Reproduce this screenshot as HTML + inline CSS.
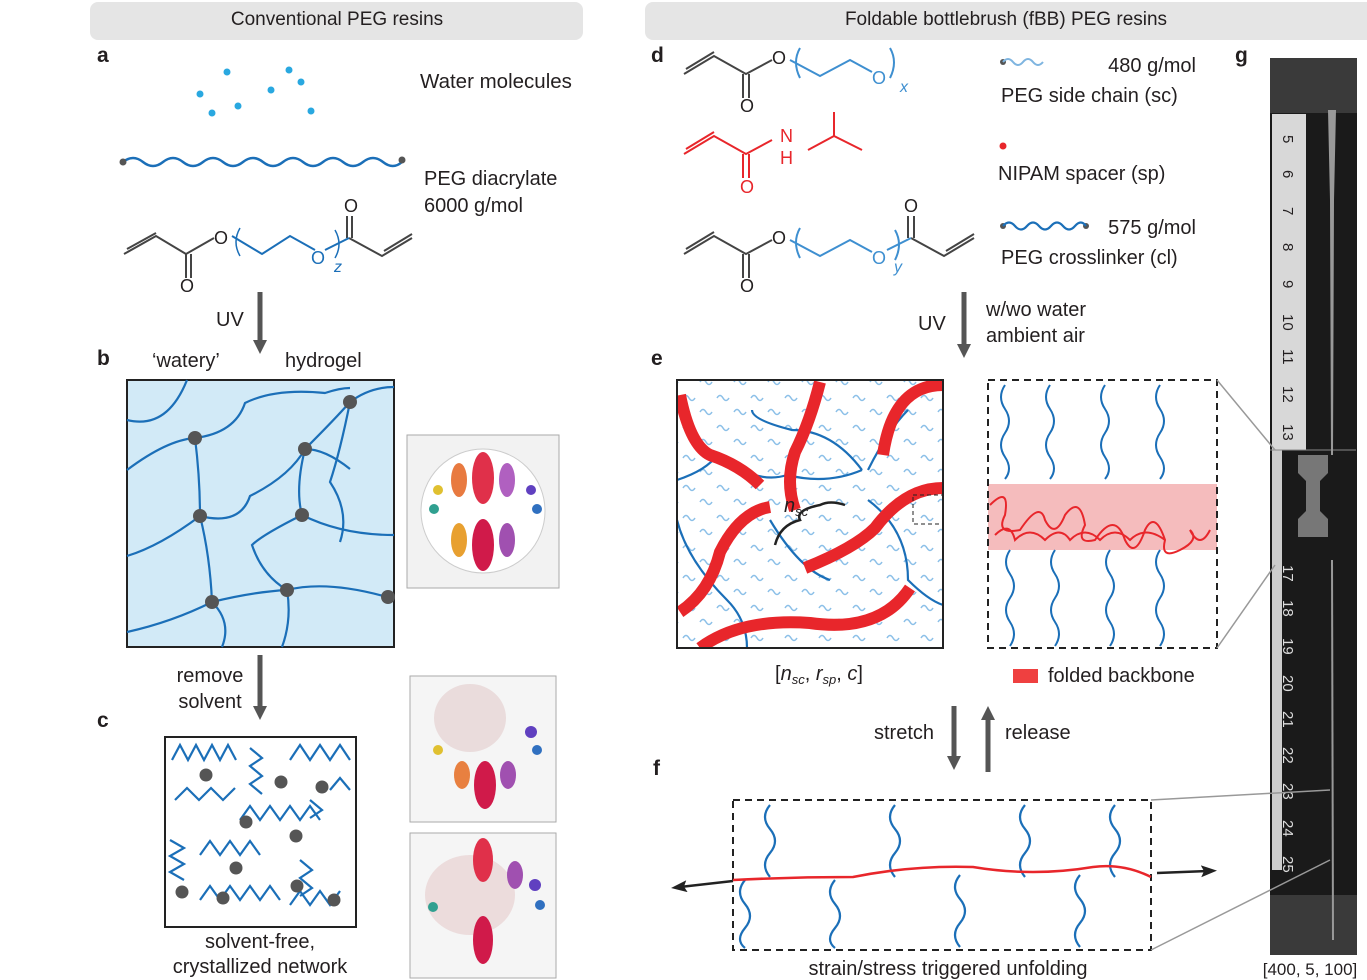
<!DOCTYPE html>
<html><head><meta charset="utf-8"><style>
body{margin:0;background:#fff}
svg{display:block}
text{font-family:"Liberation Sans",sans-serif;fill:#231f20}
</style></head><body>
<svg width="1367" height="980" viewBox="0 0 1367 980" xmlns="http://www.w3.org/2000/svg">
<defs>
<marker id="ah" markerWidth="16" markerHeight="14" refX="6" refY="7" orient="auto" markerUnits="userSpaceOnUse"><path d="M0,0 L14,7 L0,14 z" fill="#555"/></marker>
<marker id="ak" markerWidth="16" markerHeight="12" refX="7" refY="6" orient="auto" markerUnits="userSpaceOnUse"><path d="M0,0 L16,6 L0,12 L3,6 z" fill="#222"/></marker>
<pattern id="sq" width="34" height="30" patternUnits="userSpaceOnUse">
<path d="M3,8 q3,-5 6,0 t6,0" fill="none" stroke="#8cc0e8" stroke-width="1.5"/>
<path d="M20,22 q3,-5 6,0 t6,0" fill="none" stroke="#8cc0e8" stroke-width="1.5"/>
</pattern>
<clipPath id="ce"><rect x="677" y="380" width="266" height="268"/></clipPath>
</defs>
<rect x="90" y="2" width="493" height="38" rx="8" fill="#e5e5e5"/>
<text x="337" y="25" font-size="19" text-anchor="middle">Conventional PEG resins</text>
<rect x="645" y="2" width="730" height="38" rx="8" fill="#e5e5e5"/>
<text x="1006" y="25" font-size="19" text-anchor="middle">Foldable bottlebrush (fBB) PEG resins</text>
<g font-size="21" font-weight="bold">
<text x="97" y="62">a</text><text x="97" y="365">b</text><text x="97" y="727">c</text>
<text x="651" y="62">d</text><text x="651" y="365">e</text><text x="653" y="775">f</text><text x="1235" y="62">g</text></g>
<g fill="#29a8e0"><circle cx="227" cy="72" r="3.5"/><circle cx="289" cy="70" r="3.5"/><circle cx="301" cy="82" r="3.5"/><circle cx="200" cy="94" r="3.5"/><circle cx="271" cy="90" r="3.5"/><circle cx="238" cy="106" r="3.5"/><circle cx="212" cy="113" r="3.5"/><circle cx="311" cy="111" r="3.5"/></g>
<text x="420" y="88" font-size="20.5">Water molecules</text>
<path d="M123,162 q10,-8 20,0 t20,0 t20,0 t20,0 t20,0 t20,0 t20,0 t20,0 t20,0 t20,0 t20,0 t20,0 t20,0 t19,0" fill="none" stroke="#1b6fb8" stroke-width="2.5"/>
<circle cx="123" cy="162" r="3.5" fill="#555"/><circle cx="402" cy="160" r="3.5" fill="#555"/>
<text x="424" y="185" font-size="20">PEG diacrylate</text><text x="424" y="212" font-size="20">6000 g/mol</text>
<g fill="none" stroke="#444" stroke-width="2">
<path d="M124,254 L156,236 L186,254 L214,238"/><path d="M127,249 L156,233"/><path d="M186,254 L186,278"/><path d="M191,254 L191,278"/>
<path d="M352,238 L352,216"/><path d="M347,238 L347,216"/><path d="M349,238 L382,256 L412,238"/><path d="M384,251 L412,234"/></g>
<path d="M232,236 L262,254 L290,236 L315,250 M325,250 L349,238" fill="none" stroke="#1b6fb8" stroke-width="2"/>
<path d="M240,228 q-8,14 0,28 M335,230 q8,14 0,28" fill="none" stroke="#1b6fb8" stroke-width="1.5"/>
<text x="214" y="244" font-size="18" fill="#444">O</text><text x="180" y="292" font-size="18" fill="#444">O</text><text x="344" y="212" font-size="18" fill="#444">O</text>
<text x="311" y="264" font-size="18" style="fill:#1b6fb8">O</text><text x="334" y="272" font-size="16" font-style="italic" style="fill:#1b6fb8">z</text>
<line x1="260" y1="292" x2="260" y2="346" stroke="#555" stroke-width="5" marker-end="url(#ah)"/>
<text x="216" y="326" font-size="20">UV</text>
<text x="152" y="367" font-size="20">‘watery’</text><text x="285" y="367" font-size="20">hydrogel</text>
<rect x="127" y="380" width="267" height="267" fill="#d2eaf7" stroke="#222" stroke-width="2"/>
<g fill="none" stroke="#1b6fb8" stroke-width="2.2">
<path d="M127,470 q40,-30 68,-32 q40,-5 50,-35 q30,-15 80,-10 q15,-5 25,-5"/>
<path d="M195,438 q5,40 5,78 q40,10 50,-20 q40,-20 55,-47"/>
<path d="M305,449 q30,-30 45,-47 q20,-15 44,-15"/><path d="M305,449 q-10,40 -3,66"/>
<path d="M200,516 q-40,30 -73,40"/><path d="M200,516 q10,40 12,86 q-40,20 -85,30"/>
<path d="M302,515 q40,20 92,20"/><path d="M302,515 q-40,20 -50,30 q10,30 35,45"/>
<path d="M212,602 q40,-10 75,-12 q40,-10 100,7"/><path d="M287,590 q5,30 -5,57"/><path d="M212,602 q20,20 10,45"/>
<path d="M350,402 q-10,50 -20,80 q20,30 10,60"/><path d="M305,449 q20,0 45,20"/><path d="M127,420 q40,10 60,-40"/>
</g>
<g fill="#555"><circle cx="195" cy="438" r="7"/><circle cx="305" cy="449" r="7"/><circle cx="350" cy="402" r="7"/><circle cx="200" cy="516" r="7"/><circle cx="302" cy="515" r="7"/><circle cx="212" cy="602" r="7"/><circle cx="287" cy="590" r="7"/><circle cx="388" cy="597" r="7"/></g>
<rect x="407" y="435" width="152" height="153" fill="#f2f2f2" stroke="#aaa"/>
<circle cx="483" cy="511" r="62" fill="#fff" stroke="#ccc"/>
<ellipse cx="483" cy="478" rx="11" ry="26" fill="#e0304a"/><ellipse cx="483" cy="545" rx="11" ry="26" fill="#d01a4a"/>
<ellipse cx="459" cy="480" rx="8" ry="17" fill="#e87a40"/><ellipse cx="507" cy="480" rx="8" ry="17" fill="#b060c0"/>
<ellipse cx="459" cy="540" rx="8" ry="17" fill="#e8a030"/><ellipse cx="507" cy="540" rx="8" ry="17" fill="#a050b0"/>
<circle cx="438" cy="490" r="5" fill="#e0c030"/><circle cx="434" cy="509" r="5" fill="#30a090"/><circle cx="531" cy="490" r="5" fill="#6040c0"/><circle cx="537" cy="509" r="5" fill="#3070c0"/>
<line x1="260" y1="655" x2="260" y2="712" stroke="#555" stroke-width="5" marker-end="url(#ah)"/>
<text x="210" y="682" font-size="20" text-anchor="middle">remove</text><text x="210" y="708" font-size="20" text-anchor="middle">solvent</text>
<rect x="165" y="737" width="191" height="190" fill="#fff" stroke="#222" stroke-width="2"/>
<g fill="none" stroke="#1b6fb8" stroke-width="2.2">
<path d="M172,760 l8,-15 l8,15 l8,-15 l8,15 l8,-15 l8,15 l8,-15 l8,15"/>
<path d="M250,748 l12,10 l-12,8 l12,10 l-12,8 l12,10"/>
<path d="M290,760 l10,-15 l10,15 l10,-15 l10,15 l10,-15 l10,15"/>
<path d="M175,800 l12,-12 l12,12 l12,-12 l12,12 l12,-12"/>
<path d="M240,820 l10,-14 l10,14 l10,-14 l10,14 l10,-14 l10,14 l10,-14 l10,14"/>
<path d="M170,840 l14,8 l-14,8 l14,8 l-14,8 l14,8"/>
<path d="M200,855 l10,-14 l10,14 l10,-14 l10,14 l10,-14 l10,14"/>
<path d="M300,860 l12,10 l-12,8 l12,10 l-12,8"/>
<path d="M200,900 l10,-14 l10,14 l10,-14 l10,14 l10,-14 l10,14 l10,-14 l10,14"/>
<path d="M290,905 l10,-14 l10,14 l10,-14 l10,14 l10,-14"/>
<path d="M330,790 l10,-12 l10,12 M310,800 l12,10 l-12,8"/>
</g>
<g fill="#555"><circle cx="206" cy="775" r="6.5"/><circle cx="281" cy="782" r="6.5"/><circle cx="322" cy="787" r="6.5"/><circle cx="246" cy="822" r="6.5"/><circle cx="296" cy="836" r="6.5"/><circle cx="236" cy="868" r="6.5"/><circle cx="182" cy="892" r="6.5"/><circle cx="297" cy="886" r="6.5"/><circle cx="223" cy="898" r="6.5"/><circle cx="334" cy="900" r="6.5"/></g>
<text x="260" y="948" font-size="20" text-anchor="middle">solvent-free,</text><text x="260" y="973" font-size="20" text-anchor="middle">crystallized network</text>
<rect x="410" y="676" width="146" height="146" fill="#f5f5f5" stroke="#aaa"/>
<ellipse cx="470" cy="718" rx="36" ry="34" fill="#eadcdc"/><ellipse cx="485" cy="785" rx="11" ry="24" fill="#d01a4a"/><ellipse cx="462" cy="775" rx="8" ry="14" fill="#e88040"/><ellipse cx="508" cy="775" rx="8" ry="14" fill="#a050b0"/>
<circle cx="531" cy="732" r="6" fill="#6040c0"/><circle cx="537" cy="750" r="5" fill="#3070c0"/><circle cx="438" cy="750" r="5" fill="#e0c030"/>
<rect x="410" y="833" width="146" height="145" fill="#f5f5f5" stroke="#aaa"/>
<ellipse cx="470" cy="895" rx="45" ry="40" fill="#ecdcdc"/><ellipse cx="483" cy="860" rx="10" ry="22" fill="#e0304a"/><ellipse cx="483" cy="940" rx="10" ry="24" fill="#d01a4a"/>
<circle cx="535" cy="885" r="6" fill="#6040c0"/><circle cx="540" cy="905" r="5" fill="#3070c0"/><circle cx="433" cy="907" r="5" fill="#30a090"/><ellipse cx="515" cy="875" rx="8" ry="14" fill="#a050b0"/>
<g fill="none" stroke="#444" stroke-width="2"><path d="M684,74 L714,56 L746,74 L772,60"/><path d="M686,69 L714,52"/><path d="M743,74 L743,98 M749,74 L749,98"/>
<path d="M684,254 L714,236 L746,254 L772,240"/><path d="M686,249 L714,232"/><path d="M743,254 L743,278 M749,254 L749,278"/>
<path d="M908,238 L908,216 M914,238 L914,216 M911,238 L944,256 L974,238 M946,251 L974,234"/></g>
<text x="772" y="64" font-size="18" fill="#444">O</text><text x="740" y="112" font-size="18" fill="#444">O</text>
<text x="772" y="244" font-size="18" fill="#444">O</text><text x="740" y="292" font-size="18" fill="#444">O</text><text x="904" y="212" font-size="18" fill="#444">O</text>
<g fill="none" stroke="#3e8fd0" stroke-width="2"><path d="M790,60 L820,76 L850,60 L872,72 M800,48 q-8,14 0,30 M890,48 q8,14 0,30"/>
<path d="M790,240 L820,256 L850,240 L872,252 M887,250 L911,238 M800,228 q-8,14 0,30 M895,230 q8,14 0,30"/></g>
<text x="872" y="84" font-size="18" style="fill:#3e8fd0">O</text><text x="900" y="92" font-size="16" font-style="italic" style="fill:#3e8fd0">x</text>
<text x="872" y="264" font-size="18" style="fill:#3e8fd0">O</text><text x="894" y="272" font-size="16" font-style="italic" style="fill:#3e8fd0">y</text>
<g fill="none" stroke="#e8262b" stroke-width="2"><path d="M684,154 L714,136 L746,154 L772,140 M686,149 L714,132 M743,154 L743,178 M749,154 L749,178 M808,150 L834,136 L862,150 M834,136 L834,112"/></g>
<text x="740" y="193" font-size="18" style="fill:#e8262b">O</text><text x="780" y="142" font-size="18" style="fill:#e8262b">N</text><text x="780" y="164" font-size="18" style="fill:#e8262b">H</text>
<circle cx="1003" cy="62" r="3" fill="#555"/><path d="M1003,62 q5,-6 10,0 t10,0 t10,0 t10,0" fill="none" stroke="#7fb5e0" stroke-width="2"/>
<text x="1196" y="72" font-size="20" text-anchor="end">480 g/mol</text><text x="1001" y="102" font-size="20">PEG side chain (sc)</text>
<circle cx="1003" cy="146" r="3.5" fill="#e8262b"/><text x="998" y="180" font-size="20">NIPAM spacer (sp)</text>
<circle cx="1003" cy="226" r="3" fill="#555"/><circle cx="1086" cy="226" r="3" fill="#555"/><path d="M1003,226 q6,-7 12,0 t12,0 t12,0 t12,0 t12,0 t12,0 t11,0" fill="none" stroke="#1b6fb8" stroke-width="2.2"/>
<text x="1196" y="234" font-size="20" text-anchor="end">575 g/mol</text><text x="1001" y="264" font-size="20">PEG crosslinker (cl)</text>
<line x1="964" y1="292" x2="964" y2="350" stroke="#555" stroke-width="5" marker-end="url(#ah)"/>
<text x="918" y="330" font-size="20">UV</text><text x="986" y="316" font-size="20">w/wo water</text><text x="986" y="342" font-size="20">ambient air</text>
<rect x="677" y="380" width="266" height="268" fill="#fff"/>
<g clip-path="url(#ce)">
<rect x="677" y="380" width="266" height="268" fill="url(#sq)"/>
<g fill="none" stroke="#1b6fb8" stroke-width="2.2">
<path d="M677,480 q30,-10 40,-25 q40,30 70,20 q40,10 75,-5"/><path d="M862,470 q-30,-40 -70,-40 q-40,-10 -40,-20"/>
<path d="M677,520 q10,40 50,80 q20,20 20,48"/><path d="M770,520 q30,50 60,60"/><path d="M868,500 q40,30 40,80 q20,20 35,25"/><path d="M868,470 q20,-40 40,-60"/></g>
<g fill="none" stroke="#e8262b" stroke-width="12">
<path d="M680,395 q10,50 30,60 q30,10 50,30"/><path d="M820,382 q-10,40 -25,70 q-10,30 0,58"/><path d="M943,385 q-50,0 -60,70"/>
<path d="M680,612 q30,-20 40,-60 q20,-40 50,-45"/><path d="M805,568 q50,-20 70,-40 q30,-40 68,-40"/><path d="M700,648 q40,-30 110,-25 q70,10 100,-35"/></g>
</g>
<rect x="677" y="380" width="266" height="268" fill="none" stroke="#222" stroke-width="2"/>
<rect x="913" y="495" width="30" height="29" fill="none" stroke="#222" stroke-dasharray="4 3"/>
<text x="784" y="512" font-size="20" font-style="italic" font-family="Liberation Serif">n<tspan font-size="13" dy="4">sc</tspan></text>
<path d="M775,545 q5,-20 25,-25 q-5,-10 20,-15 q10,-5 25,0" fill="none" stroke="#222" stroke-width="2.5"/>
<text x="775" y="680" font-size="20">[<tspan font-style="italic">n</tspan><tspan font-size="13" dy="4" font-style="italic">sc</tspan><tspan dy="-4">, </tspan><tspan font-style="italic">r</tspan><tspan font-size="13" dy="4" font-style="italic">sp</tspan><tspan dy="-4">, </tspan><tspan font-style="italic">c</tspan>]</text>
<rect x="988" y="484" width="229" height="66" fill="#f4b5b6" opacity=".9"/>
<rect x="988" y="380" width="229" height="268" fill="none" stroke="#222" stroke-width="2" stroke-dasharray="7 5"/>
<g fill="none" stroke="#1b6fb8" stroke-width="2"><path d="M1005,385 q-8,12 0,24 t0,24 t0,24 t0,22"/><path d="M1050,385 q-8,12 0,24 t0,24 t0,24 t0,22"/><path d="M1105,385 q-8,12 0,24 t0,24 t0,24 t0,22"/><path d="M1160,385 q-8,12 0,24 t0,24 t0,24 t0,22"/>
<path d="M1010,550 q-8,12 0,24 t0,24 t0,24 t0,24"/><path d="M1055,550 q-8,12 0,24 t0,24 t0,24 t0,24"/><path d="M1110,550 q-8,12 0,24 t0,24 t0,24 t0,24"/><path d="M1160,550 q-8,12 0,24 t0,24 t0,24 t0,24"/></g>
<path d="M990,505 q20,-20 15,10 q-10,20 15,15 q20,-30 25,-10 q10,20 20,-5 q15,-20 20,10 q-10,20 10,15 q20,-30 30,0 q10,20 20,-10 q10,-20 20,10 q-5,20 15,10 q20,-10 10,-20 q10,20 20,0" fill="none" stroke="#e8262b" stroke-width="2"/>
<path d="M995,535 q15,-15 20,5 q15,-15 30,0 q15,-15 25,0 q15,-15 30,0 q15,-15 30,0 q15,-15 35,0" fill="none" stroke="#e8262b" stroke-width="2"/>
<rect x="1013" y="669" width="25" height="14" fill="#ef4040"/><text x="1048" y="682" font-size="20">folded backbone</text>
<line x1="954" y1="706" x2="954" y2="762" stroke="#555" stroke-width="5" marker-end="url(#ah)"/>
<line x1="988" y1="772" x2="988" y2="714" stroke="#555" stroke-width="5" marker-end="url(#ah)"/>
<text x="874" y="739" font-size="20">stretch</text><text x="1005" y="739" font-size="20">release</text>
<rect x="733" y="800" width="418" height="150" fill="none" stroke="#222" stroke-width="2" stroke-dasharray="7 5"/>
<g fill="none" stroke="#1b6fb8" stroke-width="2.2"><path d="M770,805 q-10,12 0,24 t0,24 t0,24"/><path d="M895,805 q-10,12 0,24 t0,24 t0,24"/><path d="M1025,805 q-10,12 0,24 t0,24 t0,24"/><path d="M1115,805 q-10,12 0,24 t0,24 t0,24"/>
<path d="M745,880 q-10,12 0,24 t0,24 t0,20"/><path d="M835,880 q-10,12 0,24 t0,24 t0,20"/><path d="M960,875 q-10,12 0,24 t0,24 t0,24"/><path d="M1080,875 q-10,12 0,24 t0,24 t0,24"/></g>
<path d="M733,880 q60,-3 120,-3 q60,-12 120,-10 q60,10 120,0 q30,-4 58,10" fill="none" stroke="#e8262b" stroke-width="2.5"/>
<line x1="733" y1="881" x2="680" y2="887" stroke="#222" stroke-width="2.5" marker-end="url(#ak)"/>
<line x1="1157" y1="873" x2="1208" y2="871" stroke="#222" stroke-width="2.5" marker-end="url(#ak)"/>
<text x="948" y="975" font-size="20" text-anchor="middle">strain/stress triggered unfolding</text>
<rect x="1270" y="58" width="87" height="897" fill="#1a1a1a"/>
<rect x="1270" y="58" width="87" height="55" fill="#3a3a3a"/><rect x="1270" y="895" width="87" height="60" fill="#3a3a3a"/>
<rect x="1272" y="114" width="34" height="336" fill="#d8d8d8"/>
<rect x="1272" y="450" width="10" height="420" fill="#ccc"/>
<g font-size="15"><text transform="translate(1283,135) rotate(90)">5</text><text transform="translate(1283,170) rotate(90)">6</text><text transform="translate(1283,207) rotate(90)">7</text><text transform="translate(1283,243) rotate(90)">8</text><text transform="translate(1283,280) rotate(90)">9</text><text transform="translate(1283,314) rotate(90)">10</text><text transform="translate(1283,349) rotate(90)">11</text><text transform="translate(1283,386) rotate(90)">12</text><text transform="translate(1283,424) rotate(90)">13</text></g>
<g font-size="15"><text transform="translate(1283,565) rotate(90)" style="fill:#ddd">17</text><text transform="translate(1283,600) rotate(90)" style="fill:#ddd">18</text><text transform="translate(1283,638) rotate(90)" style="fill:#ddd">19</text><text transform="translate(1283,675) rotate(90)" style="fill:#ddd">20</text><text transform="translate(1283,711) rotate(90)" style="fill:#ddd">21</text><text transform="translate(1283,747) rotate(90)" style="fill:#ddd">22</text><text transform="translate(1283,783) rotate(90)" style="fill:#ddd">23</text><text transform="translate(1283,820) rotate(90)" style="fill:#ddd">24</text><text transform="translate(1283,856) rotate(90)" style="fill:#ddd">25</text></g>
<path d="M1270,450 h86" stroke="#888"/>
<path d="M1328,110 L1336,110 L1334,200 L1333,455 L1331,455 L1330,200 z" fill="#999"/>
<path d="M1298,455 h30 v18 l-8,8 v30 l8,8 v18 h-30 v-18 l8,-8 v-30 l-8,-8 z" fill="#777"/>
<path d="M1332,560 L1333,940" stroke="#999" stroke-width="2"/>
<g stroke="#999" stroke-width="1.5"><line x1="1217" y1="380" x2="1275" y2="450"/><line x1="1217" y1="648" x2="1275" y2="565"/><line x1="1151" y1="800" x2="1330" y2="790"/><line x1="1151" y1="950" x2="1330" y2="860"/></g>
<text x="1310" y="975" font-size="17" text-anchor="middle">[400, 5, 100]</text>
</svg>
</body></html>
